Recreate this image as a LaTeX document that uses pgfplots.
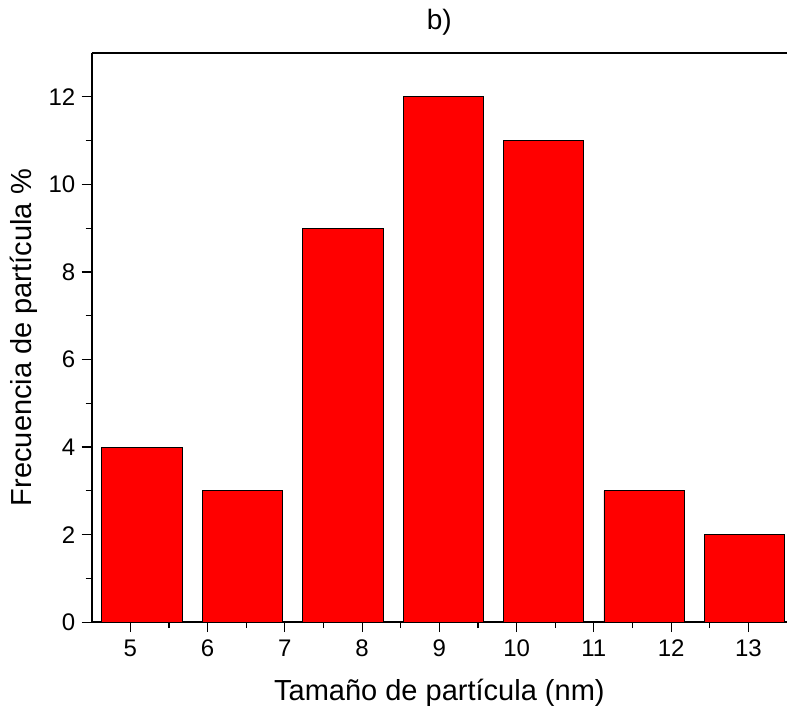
\documentclass[border=0pt]{standalone}
\usepackage{pgfplots}
\pgfplotsset{compat=1.18}
\usepackage{fontspec}
\setmainfont{Liberation Sans}
\begin{document}
\begin{tikzpicture}
\begin{axis}[
  name=a,
  scale only axis,
  width=695bp, height=569bp,
  xmin=4.5, xmax=13.5,
  ymin=0, ymax=13,
  axis x line*=box, axis y line*=left,
  xtick pos=bottom, ytick pos=left,
  xtick={5,...,13}, ytick={0,2,...,12},
  minor x tick num=1, minor y tick num=1,
  tick align=outside,
  major tick length=10bp, minor tick length=6bp,
  every tick/.style={black, line width=1.2bp},
  axis line style={black, line width=1.6bp},
  /pgf/number format/assume math mode=true,
  tick label style={font=\fontsize{24bp}{28bp}\selectfont},
  xticklabel style={yshift=-4bp},
  yticklabel style={xshift=-3bp},
  title={b)},
  title style={font=\fontsize{28bp}{32bp}\selectfont, at={(axis description cs:0.5,1)}, anchor=base, yshift=18bp},
  xlabel={Tamaño de partícula (nm)},
  xlabel style={font=\fontsize{29bp}{33bp}\selectfont, at={(axis description cs:0.5,0)}, anchor=base, yshift=-78bp},
  ylabel={Frecuencia de partícula \%},
  ylabel style={font=\fontsize{29bp}{33bp}\selectfont, at={(axis description cs:-0.0863,0.5)}, anchor=base, rotate=0},
  ybar, bar width=1.04, bar shift=0,
]
% histogram bins of width 1.3 starting at 4.5
\addplot[fill={rgb,255:red,255;green,0;blue,0}, draw=black, line width=0.8bp]
  coordinates {(5.15,4) (6.45,3) (7.75,9) (9.05,12) (10.35,11) (11.65,3) (12.95,2)};
\end{axis}
\pgfresetboundingbox
\path ([shift={(-91.7bp,-87bp)}]a.south west) rectangle ([shift={(3bp,53bp)}]a.north east);
\end{tikzpicture}
\end{document}
